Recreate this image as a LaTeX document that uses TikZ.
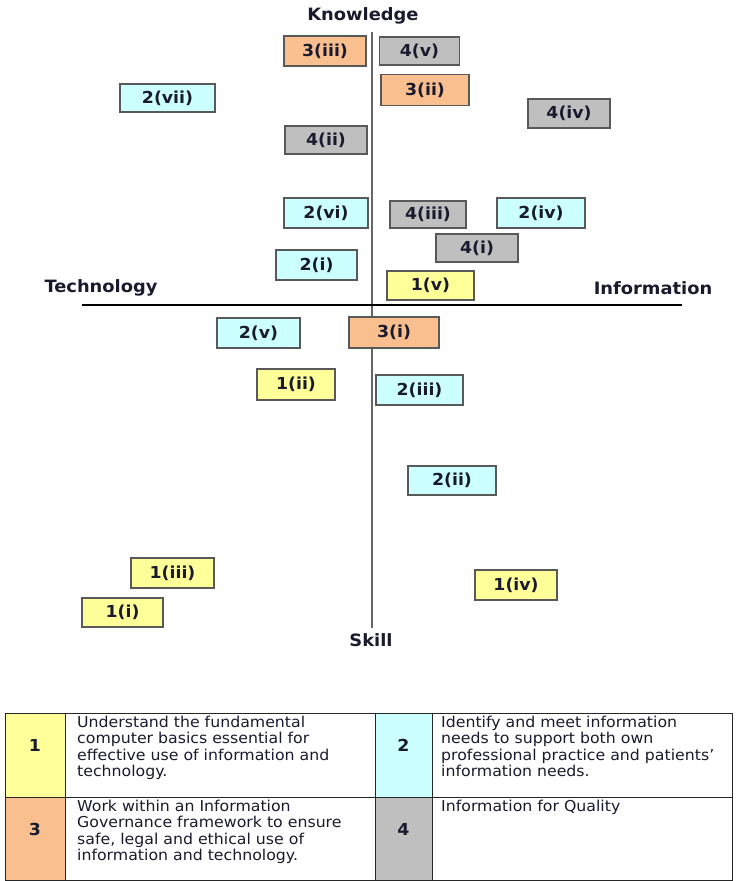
\documentclass[tikz,border=0pt]{standalone}
\usepackage{fontspec}
\setmainfont{DejaVu Sans}[FakeStretch=1.05]
\definecolor{kyellow}{RGB}{255,255,153}
\definecolor{kcyan}{RGB}{204,255,255}
\definecolor{korange}{RGB}{250,191,143}
\definecolor{kgray}{RGB}{191,191,191}
\definecolor{kedge}{RGB}{89,89,89}
\definecolor{ktext}{RGB}{26,26,46}

\begin{document}
\begin{tikzpicture}[x=1pt, y=-1pt,
    compbox/.style={draw=kedge, line width=1.4pt, inner sep=0pt, text=ktext,
      font=\bfseries\fontsize{16.5}{19}\selectfont},
    axislabel/.style={text=ktext, font=\bfseries\fontsize{17}{20}\selectfont},
    keynum/.style={text=ktext, font=\bfseries\fontsize{16.5}{19}\selectfont},
    keytext/.style={anchor=north west, inner sep=0pt, align=left, text=ktext,
      font=\fontsize{15}{16.3}\selectfont},
    keyline/.style={draw=black!85, line width=1pt}]
  \useasboundingbox (0,0) rectangle (737,881);

  % axes
  \coordinate (ktop) at (372,32);
  \coordinate (kbot) at (372,628);
  \coordinate (tleft) at (82,305);
  \coordinate (iright) at (682,305);
  \draw[black!60, line width=1.4pt] (ktop) -- (kbot);
  \draw[black, line width=1.4pt] (tleft) -- (iright);
  \node[axislabel] (knowledge) at (363,16) {Knowledge};
  \node[axislabel] (skill) at (371,640) {Skill};
  \node[axislabel] (technology) at (101,288) {Technology};
  \node[axislabel] (information) at (653,288) {Information};

  % competence boxes
  \foreach \nm/\cx/\cy/\w/\h/\col/\lab in {
      b3iii/325/51/82/30/korange/3(iii),
      b4v/419.5/51/80/28/kgray/4(v),
      b3ii/425/90/88/31/korange/3(ii),
      b2vii/167.5/98/95/28/kcyan/2(vii),
      b4iv/569/113.5/82/29/kgray/4(iv),
      b4ii/326/140/82/28/kgray/4(ii),
      b2vi/326/213/84/30/kcyan/2(vi),
      b4iii/428/214.5/76/27/kgray/4(iii),
      b2iv/541/213/88/30/kcyan/2(iv),
      b4i/477/248/82/28/kgray/4(i),
      b2i/316.5/265/81/30/kcyan/2(i),
      b1v/430.5/285.5/87/29/kyellow/1(v),
      b2v/258.5/333/83/30/kcyan/2(v),
      b3i/394/332.5/90/31/korange/3(i),
      b1ii/296/384.5/78/31/kyellow/1(ii),
      b2iii/419.5/390/87/30/kcyan/2(iii),
      b2ii/452/480.5/88/29/kcyan/2(ii),
      b1iii/172.5/573/83/30/kyellow/1(iii),
      b1iv/516/585/82/30/kyellow/1(iv),
      b1i/122.5/612.5/81/29/kyellow/1(i)}
    \node[compbox, fill=\col, minimum width=\w pt, minimum height=\h pt] (\nm) at (\cx,\cy) {\lab};

  % key table
  \fill[kyellow] (5,713) rectangle (65,797);
  \fill[korange] (5,797) rectangle (65,880);
  \fill[kcyan] (375,713) rectangle (432,797);
  \fill[kgray] (375,797) rectangle (432,880);
  \draw[keyline] (5,713) rectangle (732,880);
  \draw[keyline] (5,797) -- (732,797);
  \foreach \lx in {65,375,432}
    \draw[keyline] (\lx,713) -- (\lx,880);
  \node[keynum] (k1) at (35,745) {1};
  \node[keynum] (k2) at (403.5,745) {2};
  \node[keynum] (k3) at (35,829) {3};
  \node[keynum] (k4) at (403.5,829) {4};
  \node[keytext] (t1) at (77,716) {Understand the fundamental\\computer basics essential for\\effective use of information and\\technology.};
  \node[keytext] (t2) at (441,716) {Identify and meet information\\needs to support both own\\professional practice and patients’\\information needs.};
  \node[keytext] (t3) at (77,800) {Work within an Information\\Governance framework to ensure\\safe, legal and ethical use of\\information and technology.};
  \node[keytext] (t4) at (441,800) {Information for Quality};
\end{tikzpicture}
\end{document}
